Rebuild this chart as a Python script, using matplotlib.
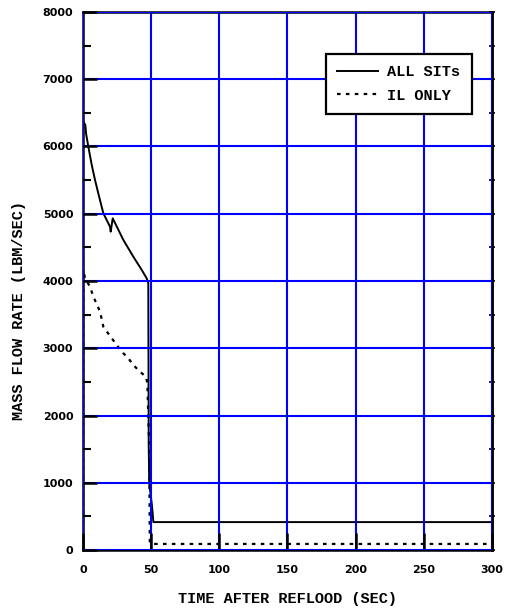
import matplotlib
matplotlib.use("Agg")
from matplotlib import pyplot as plt
from matplotlib.ticker import MultipleLocator

# ALL SITs curve (time in sec, flow in lbm/sec)
t_all = [0.0, 0.2, 1.7, 2.2, 3.9, 6.4, 8.8, 11.2, 14.9, 19.8, 20.3, 21.8,
         29.6, 36.9, 43.1, 46.7, 47.9, 48.2, 48.6, 50.4, 51.1, 51.6, 300.0]
q_all = [6400, 6369, 6320, 6196, 5997, 5725, 5502, 5304, 5007, 4808, 4733, 4932,
         4610, 4362, 4164, 4040, 3966, 1560, 992, 694, 546, 415, 415]

# IL ONLY curve
t_il = [0.0, 0.2, 1.5, 5.1, 7.6, 12.5, 14.9, 19.3, 28.4, 33.3, 36.9, 41.8,
        46.2, 47.2, 48.6, 49.0, 50.4, 300.0]
q_il = [0, 4164, 4040, 3916, 3767, 3544, 3321, 3197, 2949, 2850, 2751, 2651,
        2577, 2478, 1500, 100, 90, 90]

mono = "Liberation Mono"

fig = plt.figure(figsize=(5.05, 6.12), dpi=100)
ax = fig.add_axes([0.1644, 0.1013, 0.8096, 0.8791])

ax.plot(t_all, q_all, color='black', lw=1.4, label='ALL SITs')
ax.plot(t_il, q_il, color='black', lw=1.6, linestyle=(0, (1.6, 2.4)), label='IL ONLY')

ax.set_xlim(0, 300)
ax.set_ylim(0, 8000)
ax.xaxis.set_major_locator(MultipleLocator(50))
ax.yaxis.set_major_locator(MultipleLocator(1000))
ax.yaxis.set_minor_locator(MultipleLocator(500))
ax.grid(True, which='major', color='#0000ff', lw=1.5)
ax.set_axisbelow(False)

for s in ax.spines.values():
    s.set_linewidth(1.8)

ax.tick_params(axis='both', which='major', direction='in', width=1.8,
               labelsize=8)
ax.tick_params(axis='y', which='major', length=10, pad=7)
ax.tick_params(axis='y', which='minor', direction='in', length=6, width=1.5)
ax.tick_params(axis='x', which='major', length=12, pad=11)
for lab in ax.get_xticklabels() + ax.get_yticklabels():
    lab.set_fontweight('bold')

# short ticks on the right edge
ax2 = ax.secondary_yaxis('right')
ax2.yaxis.set_major_locator(MultipleLocator(1000))
ax2.yaxis.set_minor_locator(MultipleLocator(500))
ax2.tick_params(which='both', direction='inout', length=4, width=1.2,
                labelright=False)
ax2.spines['right'].set_linewidth(1.8)

fig.text(0.569, 0.021, "TIME AFTER REFLOOD (SEC)", family=mono,
         fontweight='bold', fontsize=11, ha='center', va='center')
fig.text(0.038, 0.493, "MASS FLOW RATE (LBM/SEC)", family=mono,
         fontweight='bold', fontsize=11, ha='center', va='center',
         rotation=90)

leg = ax.legend(loc='upper right', bbox_to_anchor=(0.951, 0.922),
                prop={'family': mono, 'weight': 'bold', 'size': 11},
                handlelength=2.7, fancybox=False, framealpha=1,
                edgecolor='black', borderpad=0.75, labelspacing=0.6,
                handletextpad=0.6, borderaxespad=0)
leg.get_frame().set_linewidth(1.6)

plt.savefig('out.png', dpi=100)
